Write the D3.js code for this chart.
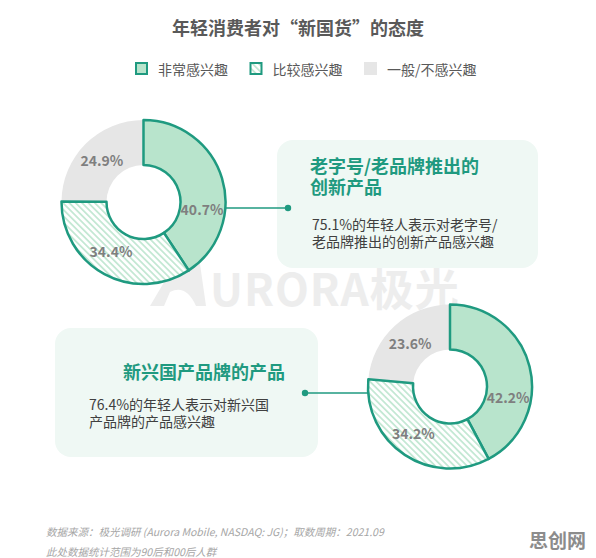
<!DOCTYPE html>
<html>
<head>
<meta charset="utf-8">
<script src="https://cdn.jsdelivr.net/npm/d3@7"></script>
<style>
  body { margin: 0; background: #fff; }
  svg { display: block; font-family: "Noto Sans CJK SC", "Noto Sans", sans-serif; }
</style>
</head>
<body>
<div id="main"></div>
<script>
// data
const categories = ["非常感兴趣", "比较感兴趣", "一般/不感兴趣"];
const oldBrandValues = [40.7, 34.4, 24.9];
const newBrandValues = [42.2, 34.2, 23.6];
const oldBrandTitle = ["老字号/老品牌推出的", "创新产品"];
const oldBrandNote = ["75.1%的年轻人表示对老字号/", "老品牌推出的创新产品感兴趣"];
const newBrandTitle = ["新兴国产品牌的产品"];
const newBrandNote = ["76.4%的年轻人表示对新兴国", "产品牌的产品感兴趣"];
const chartTitle = "年轻消费者对“新国货”的态度";
const footNotes = ["数据来源：极光调研 (Aurora Mobile, NASDAQ: JG)；取数周期：2021.09", "此处数据统计范围为90后和00后人群"];

const width = 596, height = 558;
const teal = "#1f9a80";
const mint = "#b8e4cc";
const grey = "#e6e6e6";

const svg = d3.select("#main").append("svg")
  .attr("width", width)
  .attr("height", height);

// hatch pattern for the middle category
const defs = svg.append("defs");
const pat = defs.append("pattern")
  .attr("id", "hatch")
  .attr("patternUnits", "userSpaceOnUse")
  .attr("width", 4.5).attr("height", 4.5)
  .attr("patternTransform", "rotate(-45)");
pat.append("rect").attr("width", 4.5).attr("height", 4.5).attr("fill", "#fff");
pat.append("rect").attr("width", 1.8).attr("height", 4.5).attr("fill", "#c4e8d4");

const fills = d3.scaleOrdinal().domain(categories).range([mint, "url(#hatch)", grey]);
const strokes = d3.scaleOrdinal().domain(categories).range([teal, teal, "none"]);

// watermark
const wm = svg.append("g").attr("fill", "#ededed");
wm.append("path")
  .attr("d", "M150,306 L176,262 Q190,252 200,264 L206,306 L196,306 Q186,284 170,292 L164,306 Z");
wm.append("text")
  .attr("x", 210).attr("y", 306)
  .attr("font-size", 44).attr("font-weight", 700)
  .attr("letter-spacing", 1)
  .text("URORA极光");

// title
svg.append("text")
  .attr("x", width / 2).attr("y", 27)
  .attr("text-anchor", "middle").attr("dominant-baseline", "central")
  .attr("font-size", 18).attr("font-weight", 700).attr("fill", "#595959")
  .text(chartTitle);

// legend
const legendX = d3.scalePoint().domain(categories).range([135, 364]);
const legend = svg.append("g").selectAll("g").data(categories).enter().append("g")
  .attr("transform", d => "translate(" + legendX(d) + ",62)");
legend.append("rect")
  .attr("x", d => strokes(d) === "none" ? 0 : 1)
  .attr("y", d => strokes(d) === "none" ? 0 : 1)
  .attr("width", d => strokes(d) === "none" ? 13 : 11)
  .attr("height", d => strokes(d) === "none" ? 13 : 11)
  .attr("fill", d => fills(d))
  .attr("stroke", d => strokes(d))
  .attr("stroke-width", 2);
legend.append("text")
  .attr("x", 23).attr("y", 7)
  .attr("dominant-baseline", "central")
  .attr("font-size", 14).attr("fill", "#595959")
  .text(d => d);

// multi-line text as one element with tspans
const addLines = function (parent, lines, x, y, step) {
  const t = parent.append("text").attr("x", x).attr("y", y);
  t.selectAll("tspan").data(lines).enter().append("tspan")
    .attr("x", x)
    .attr("dy", (d, i) => i === 0 ? 0 : step)
    .text(d => d);
  return t;
};

// callout panels
const drawPanel = function (box, titleLines, titleX, titleY, noteLines, noteX, noteY) {
  const g = svg.append("g");
  g.append("rect")
    .attr("x", box.x).attr("y", box.y)
    .attr("width", box.w).attr("height", box.h)
    .attr("rx", 16)
    .attr("fill", "#eff8f4");
  addLines(g, titleLines, titleX, titleY + 6, 21)
    .attr("font-size", 18).attr("font-weight", 700).attr("fill", teal);
  addLines(g, noteLines, noteX, noteY + 5, 16.5)
    .attr("font-size", 14).attr("fill", "#404040");
};
drawPanel({ x: 277, y: 140, w: 261, h: 128 }, oldBrandTitle, 310, 167, oldBrandNote, 312, 225);
drawPanel({ x: 55, y: 328, w: 263, h: 129 }, newBrandTitle, 123, 373, newBrandNote, 89, 405);

// donuts
const outerR = 82, innerR = 37;
const pie = d3.pie().sort(null).value(d => d);
const arc = d3.arc().innerRadius(innerR).outerRadius(outerR);
const labelShift = [24, 5, 0]; // degrees, nudges labels like the original layout
const labelR = 59;

const drawDonut = function (values, cx, cy, linkY, dotX) {
  const g = svg.append("g").attr("transform", "translate(" + cx + "," + cy + ")");
  const arcs = pie(values);
  // connector
  const side = dotX > cx ? 1 : -1;
  svg.append("line")
    .attr("x1", cx + side * Math.sqrt(outerR * outerR - (linkY - cy) * (linkY - cy)))
    .attr("x2", dotX)
    .attr("y1", linkY).attr("y2", linkY)
    .attr("stroke", teal).attr("stroke-width", 1.5);
  svg.append("circle")
    .attr("cx", dotX).attr("cy", linkY).attr("r", 3.2)
    .attr("fill", teal);
  // slices: grey first so the outlined slices sit on top
  const order = [2, 0, 1];
  g.selectAll("path").data(order.map(i => arcs[i])).enter().append("path")
    .attr("d", arc)
    .attr("fill", d => fills(categories[d.index]))
    .attr("stroke", d => strokes(categories[d.index]))
    .attr("stroke-width", 2.5)
    .attr("stroke-linejoin", "round");
  g.selectAll("text").data(arcs).enter().append("text")
    .attr("x", d => labelR * Math.sin((d.startAngle + d.endAngle) / 2 + labelShift[d.index] * Math.PI / 180))
    .attr("y", d => -labelR * Math.cos((d.startAngle + d.endAngle) / 2 + labelShift[d.index] * Math.PI / 180))
    .attr("text-anchor", "middle").attr("dominant-baseline", "central")
    .attr("font-size", 14).attr("font-weight", 700).attr("fill", "#7f7f7f")
    .text(d => d3.format(".1f")(d.data) + "%");
};
drawDonut(oldBrandValues, 143.5, 202, 208, 288);
drawDonut(newBrandValues, 450, 386.5, 393, 305);

// footer
addLines(svg, footNotes, 46, 536, 20)
  .attr("font-size", 10.5).attr("font-style", "italic").attr("fill", "#a6a6a6");
svg.append("text")
  .attr("x", 529).attr("y", 539)
  .attr("dominant-baseline", "central")
  .attr("font-size", 19).attr("font-weight", 700).attr("fill", "#8c8c8c")
  .text("思创网");
</script>
</body>
</html>
